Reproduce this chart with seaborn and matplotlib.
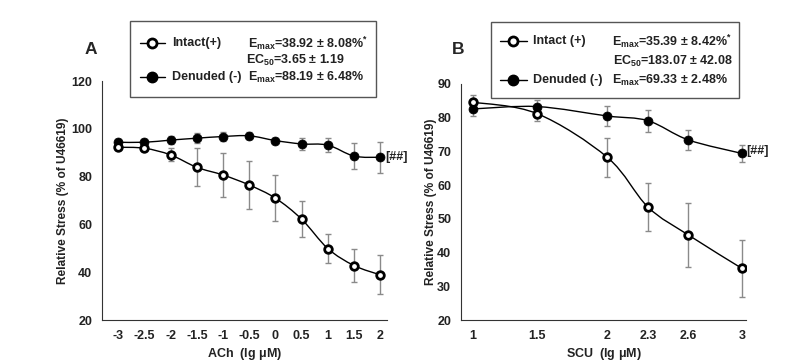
import numpy as np
import pandas as pd
import matplotlib.pyplot as plt
from matplotlib.lines import Line2D
from matplotlib.patches import Rectangle, PathPatch
from matplotlib.path import Path
import seaborn as sns

sns.set_theme(style="white")
plt.rcParams['font.family'] = ['Liberation Sans', 'DejaVu Sans']
plt.rcParams['font.weight'] = 'bold'
plt.rcParams['mathtext.default'] = 'regular'

# Panel A: ACh
ach_x = [-3, -2.5, -2, -1.5, -1, -0.5, 0, 0.5, 1, 1.5, 2]
ach_intact = [92.3, 91.9, 89.1, 83.9, 80.7, 76.5, 71.0, 62.2, 49.9, 42.8, 38.9]
ach_intact_err = [1.0, 1.0, 2.7, 8.0, 9.3, 10.0, 9.7, 7.6, 6.0, 7.0, 8.1]
ach_denuded = [94.4, 94.4, 95.3, 96.1, 96.8, 97.1, 95.1, 93.7, 93.2, 88.6, 88.1]
ach_denuded_err = [1.5, 1.5, 1.8, 2.0, 2.0, 1.5, 1.2, 2.5, 3.0, 5.5, 6.5]
ach_ticklabels = ['-3', '-2.5', '-2', '-1.5', '-1', '-0.5', '0', '0.5', '1', '1.5', '2']

# Panel B: SCU (lg of 10, 30, 100, 200, 400, 1000 uM)
scu_conc = [10, 30, 100, 200, 400, 1000]
scu_intact = [84.6, 81.2, 68.2, 53.5, 45.2, 35.3]
scu_intact_err = [2.0, 2.2, 5.8, 7.2, 9.4, 8.5]
scu_denuded = [82.6, 83.3, 80.5, 79.1, 73.4, 69.4]
scu_denuded_err = [2.2, 2.0, 3.0, 3.3, 3.0, 2.5]
scu_ticklabels = ['1', '1.5', '2', '2.3', '2.6', '3']

TXT = '#222222'

fig = plt.figure(figsize=(8.03, 3.62), dpi=100)
fig.patch.set_facecolor('white')

axA = fig.add_axes([0.127, 0.116, 0.355, 0.660])
axB = fig.add_axes([0.574, 0.116, 0.355, 0.652])


def smooth_path(x, y):
    # Catmull-Rom curve through the points, as cubic bezier segments
    p = np.column_stack([x, y]).astype(float)
    ext = np.vstack([p[0], p, p[-1]])
    verts = [p[0]]
    codes = [Path.MOVETO]
    for i in range(len(p) - 1):
        p0, p1, p2, p3 = ext[i], ext[i + 1], ext[i + 2], ext[i + 3]
        verts += [p1 + (p2 - p0) / 6, p2 - (p3 - p1) / 6, p2]
        codes += [Path.CURVE4] * 3
    return Path(verts, codes)


def draw_panel(ax, x, intact, intact_err, denuded, denuded_err):
    for yv, ev in [(denuded, denuded_err), (intact, intact_err)]:
        ax.errorbar(x, yv, yerr=ev, fmt='none', ecolor='#8a8a8a',
                    elinewidth=1, capsize=2.5, capthick=1, zorder=2)
        ax.add_patch(PathPatch(smooth_path(x, yv), facecolor='none',
                               edgecolor='black', lw=1, zorder=3))
    df = pd.DataFrame({'x': x, 'intact': intact, 'denuded': denuded})
    sns.scatterplot(data=df, x='x', y='denuded', ax=ax, color='black', s=42,
                    edgecolor='black', linewidth=0.5, zorder=4)
    sns.scatterplot(data=df, x='x', y='intact', ax=ax, color='white', s=30,
                    edgecolor='black', linewidth=2, zorder=5)
    for s in ['top', 'right']:
        ax.spines[s].set_visible(False)
    for s in ['left', 'bottom']:
        ax.spines[s].set_color('#333333')
        ax.spines[s].set_linewidth(0.8)
    ax.tick_params(axis='both', direction='out', length=4, width=0.8,
                   color='#333333', labelsize=9, pad=3)
    ax.set_ylabel('Relative Stress (% of U46619)', fontsize=8.6, fontweight='bold',
                  color=TXT)
    ax.grid(False)


draw_panel(axA, ach_x, ach_intact, ach_intact_err, ach_denuded, ach_denuded_err)
axA.set_xlim(-3.31, 2.13)
axA.set_ylim(20, 120)
axA.set_yticks([20, 40, 60, 80, 100, 120])
axA.set_yticklabels(['20', '40', '60', '80', '100', '120'], fontweight='bold', color=TXT)
axA.set_xticks(ach_x)
axA.set_xticklabels(ach_ticklabels, fontweight='bold', color=TXT)
axA.set_xlabel('ACh  (lg $\\mu$M)', fontsize=9, fontweight='bold', color=TXT, labelpad=3)
axA.yaxis.set_label_coords(-0.115, 0.5)
axA.text(ach_x[-1] + 0.1, ach_denuded[-1], '[##]', fontsize=9, fontweight='bold',
         va='center', ha='left', clip_on=False, color=TXT)

scu_x = np.log10(scu_conc)
draw_panel(axB, scu_x, scu_intact, scu_intact_err, scu_denuded, scu_denuded_err)
axB.set_xlim(0.91, 3.03)
axB.set_ylim(20, 90)
axB.set_yticks([20, 30, 40, 50, 60, 70, 80, 90])
axB.set_yticklabels(['20', '30', '40', '50', '60', '70', '80', '90'], fontweight='bold', color=TXT)
axB.set_xticks(scu_x)
axB.set_xticklabels(scu_ticklabels, fontweight='bold', color=TXT)
axB.set_xlabel('SCU  (lg $\\mu$M)', fontsize=9, fontweight='bold', color=TXT, labelpad=3)
axB.yaxis.set_label_coords(-0.085, 0.5)
axB.text(scu_x[-1] + 0.03, scu_denuded[-1] + 0.8, '[##]', fontsize=9, fontweight='bold',
         va='center', ha='left', clip_on=False, color=TXT)

fig.text(85 / 803, 1 - 50 / 362, 'A', fontsize=12.5, fontweight='bold', ha='left', va='center')
fig.text(452 / 803, 1 - 50 / 362, 'B', fontsize=12.5, fontweight='bold', ha='left', va='center')


def px(x, y):
    return x / 803, 1 - y / 362


def legend_box(box, rows, hx0, hx1, tx, ex, ec):
    x0, y0, x1, y1 = box
    fx0, fy1 = px(x0, y0)
    fx1, fy0 = px(x1, y1)
    fig.add_artist(Rectangle((fx0, fy0), fx1 - fx0, fy1 - fy0, transform=fig.transFigure,
                             facecolor='white', edgecolor='#555555', lw=1))
    for (y, name, emax, filled) in rows:
        lx0, ly = px(hx0, y)
        lx1, _ = px(hx1, y)
        if filled:
            kw = dict(markerfacecolor='black', markeredgecolor='black', markersize=7.5)
        else:
            kw = dict(markerfacecolor='white', markeredgecolor='black', markersize=6.5,
                      markeredgewidth=2)
        fig.add_artist(Line2D([lx0, (lx0 + lx1) / 2, lx1], [ly, ly, ly], color='black', lw=1,
                              marker='o', markevery=[1], transform=fig.transFigure, **kw))
        fig.text(px(tx, y)[0], ly, name, fontsize=9, fontweight='bold', va='center', color=TXT)
        fig.text(px(ex, y)[0], ly, emax, fontsize=9, fontweight='bold', va='center', color=TXT)
    ecx, ecy, ectext = ec
    fig.text(px(ecx, ecy)[0], px(ecx, ecy)[1], ectext, fontsize=9, fontweight='bold',
             va='center', color=TXT)


legend_box((130, 21, 376, 97),
           [(43, 'Intact(+)', 'E$_{max}$=38.92 $\\pm$ 8.08%$^{*}$', False),
            (77, 'Denuded (-)', 'E$_{max}$=88.19 $\\pm$ 6.48%', True)],
           140, 165, 172, 248, (246, 60, 'EC$_{50}$=3.65 $\\pm$ 1.19'))
legend_box((491, 22, 739, 98),
           [(41, 'Intact (+)', 'E$_{max}$=35.39 $\\pm$ 8.42%$^{*}$', False),
            (80, 'Denuded (-)', 'E$_{max}$=69.33 $\\pm$ 2.48%', True)],
           500, 527, 533, 612, (613, 61, 'EC$_{50}$=183.07 $\\pm$ 42.08'))

fig.savefig('out.png', dpi=100, facecolor='white')
